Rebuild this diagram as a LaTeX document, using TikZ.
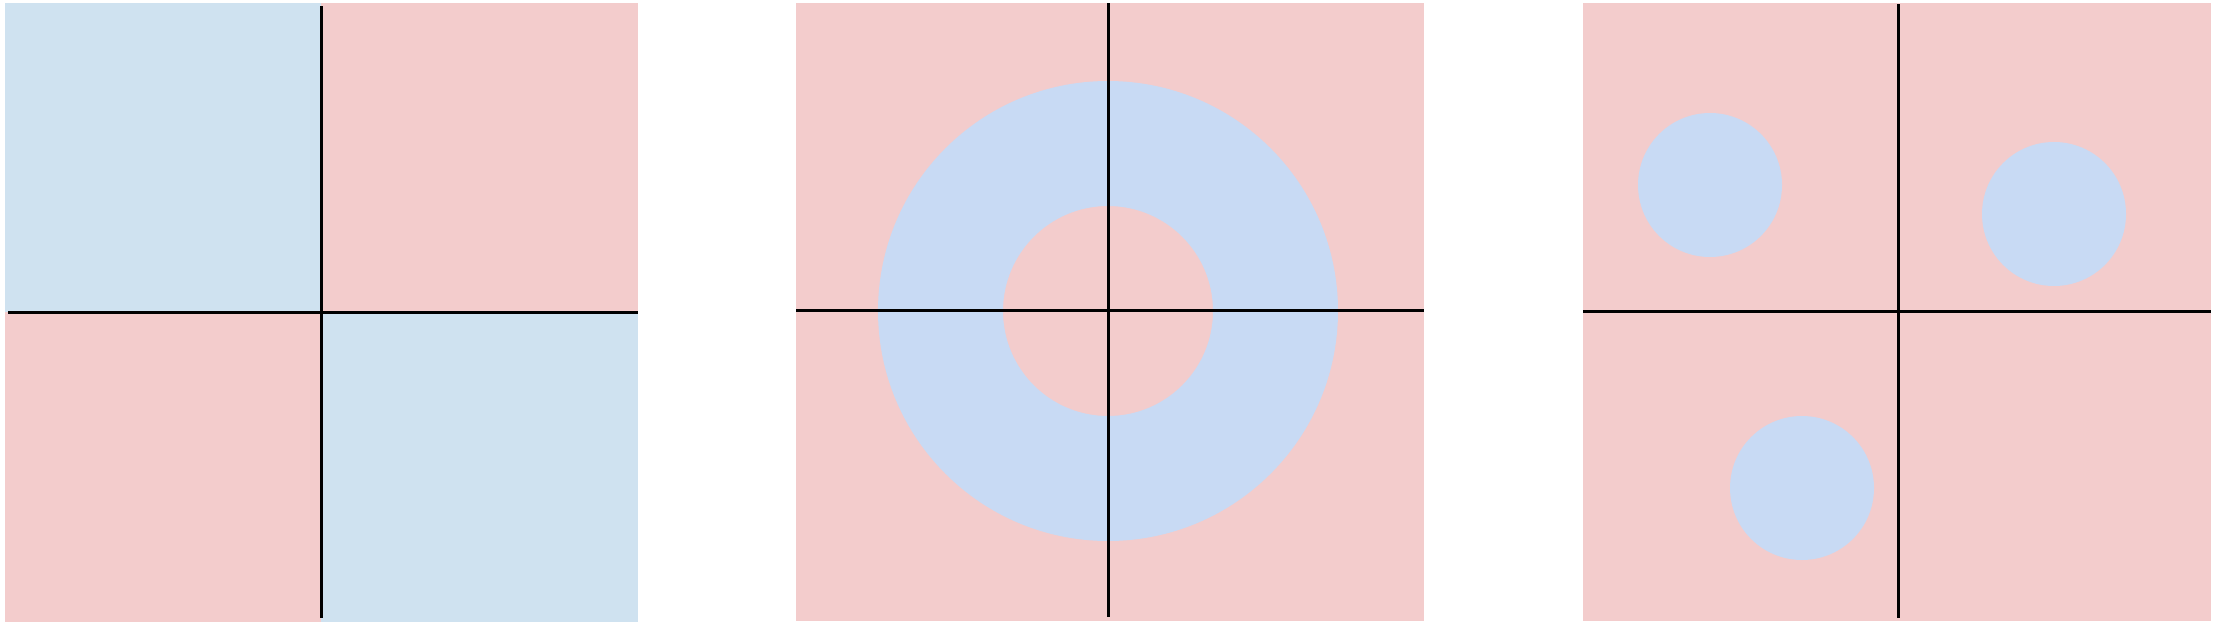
\documentclass[tikz,border=0pt]{standalone}
\definecolor{pinkbg}{HTML}{F3CCCC}
\definecolor{bluebg}{HTML}{CFE2F0}
\definecolor{bluedot}{HTML}{C8DAF4}
\tikzset{
  axisline/.style={black, line width=3pt},
  pinkfill/.style={fill=pinkbg, draw=none},
  bluefill/.style={fill=bluebg, draw=none},
  dotfill/.style={fill=bluedot, draw=none},
}
\begin{document}
\begin{tikzpicture}[x=1pt,y=-1pt]
\useasboundingbox (0,0) rectangle (2216,624);
\fill[white] (0,0) rectangle (2216,624);
% Panel 1
\fill[bluefill] (5,3) rectangle (321,312);
\fill[pinkfill] (321,3) rectangle (638,312);
\fill[pinkfill] (5,312) rectangle (321,622);
\fill[bluefill] (321,312) rectangle (638,622);
\draw[axisline] (8,312) -- (638,312);
\draw[axisline] (321,6) -- (321,618);
% Panel 2
\fill[pinkfill] (796,3) rectangle (1424,621);
\fill[dotfill, even odd rule] (1108,311) circle[radius=230] (1108,311) circle[radius=105];
\draw[axisline] (796,310) -- (1424,310);
\draw[axisline] (1108,3) -- (1108,617);
% Panel 3
\fill[pinkfill] (1583,3) rectangle (2211,621);
\fill[dotfill] (1710,185) circle[radius=72];
\fill[dotfill] (2054,214) circle[radius=72];
\fill[dotfill] (1802,488) circle[radius=72];
\draw[axisline] (1583,311) -- (2211,311);
\draw[axisline] (1898,4) -- (1898,618);
\end{tikzpicture}
\end{document}
